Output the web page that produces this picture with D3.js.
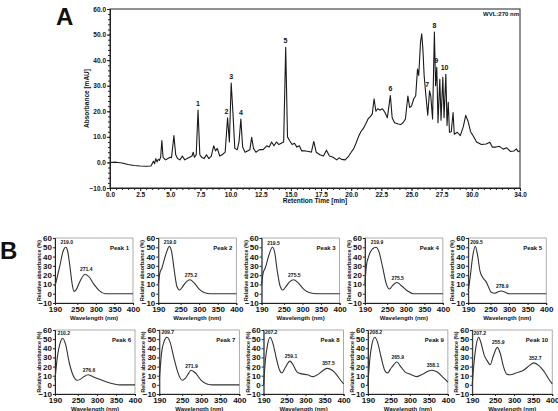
<!DOCTYPE html>
<html>
<head>
<meta charset="utf-8">
<script src="https://cdn.jsdelivr.net/npm/d3@7"></script>
<style>
  body { margin: 0; background: #fff; }
  text { font-family: "Liberation Sans", Arial, sans-serif; font-weight: bold; fill: #111; }
  .axis path, .axis line { stroke: #222; stroke-width: 1; }
  .frame { fill: none; stroke: #444; stroke-width: 1; }
</style>
</head>
<body>
<div id="chart"></div>
<script>
// ---- Panel A: chromatogram (retention time [min], absorbance [mAU]) ----
var chromTime = [0.0, 0.5, 1.0, 1.5, 2.0, 2.5, 3.0, 3.4, 3.6, 3.7, 3.8, 3.9, 4.0, 4.1, 4.2, 4.3, 4.4, 4.6, 4.8, 5.0,
  5.1, 5.3, 5.45, 5.6, 5.8, 6.0, 6.2, 6.4, 6.6, 6.8, 6.9, 7.0, 7.15, 7.3, 7.45, 7.6, 7.8, 8.0, 8.2, 8.4,
  8.6, 8.75, 8.9, 9.1, 9.3, 9.55, 9.75, 9.9, 10.05, 10.2, 10.35, 10.55, 10.7, 10.85, 11.0, 11.2, 11.4, 11.6, 11.75, 11.9,
  12.1, 12.4, 12.7, 13.0, 13.2, 13.4, 13.6, 13.8, 14.0, 14.2, 14.4, 14.57, 14.72, 14.9, 15.1, 15.3, 15.5, 15.7, 15.9, 16.2,
  16.5, 16.7, 16.9, 17.1, 17.4, 17.7, 17.95, 18.2, 18.5, 18.8, 19.0, 19.2, 19.5, 19.8, 20.0, 20.2, 20.4, 20.6, 20.8, 21.0,
  21.2, 21.4, 21.6, 21.75, 21.9, 22.05, 22.2, 22.4, 22.6, 22.8, 23.0, 23.25, 23.4, 23.6, 23.9, 24.1, 24.3, 24.5, 24.7, 24.85,
  25.0, 25.2, 25.35, 25.5, 25.6, 25.75, 25.85, 25.95, 26.05, 26.2, 26.35, 26.5, 26.6, 26.75, 26.9, 27.0, 27.1, 27.2, 27.35, 27.45,
  27.6, 27.7, 27.85, 27.95, 28.05, 28.15, 28.3, 28.45, 28.55, 28.8, 29.05, 29.3, 29.5, 29.7, 29.9, 30.1, 30.4, 30.8, 31.2, 31.5,
  31.7, 32.0, 32.3, 32.6, 32.9, 33.2, 33.5, 33.7, 33.85, 34.0];
var chromAbs = [0.0, 0.1, -0.2, -0.8, -1.2, -1.4, -1.5, -1.4, 0.5, -0.5, 1.5, 0.2, 1.2, 0.8, 2.0, 8.6, 2.0, 1.0, 1.5, 2.0,
  1.8, 10.5, 3.0, 1.5, 1.0, 2.5, 1.0, 1.5, 2.0, 2.5, 4.0, 2.0, 3.0, 20.5, 3.0, 2.0, 1.5, 3.0, 1.5, 2.5,
  6.5, 4.5, 5.5, 2.5, 3.0, 4.0, 17.5, 8.0, 31.0, 19.0, 5.5, 5.0, 8.0, 17.0, 6.0, 4.0, 4.5, 5.0, 9.8, 5.5,
  4.0, 5.0, 5.0, 6.5, 6.0, 8.0, 6.5, 8.0, 7.0, 7.5, 8.0, 45.0, 10.0, 8.5, 7.0, 7.5, 6.0, 6.5, 4.5, 4.5,
  4.3, 4.0, 8.2, 4.0, 3.0, 2.5, 4.8, 2.5, 2.0, 1.0, 1.8, 1.2, 1.0, 2.5, 4.0, 5.3, 7.5, 10.0, 12.0, 13.2,
  15.0, 17.0, 18.0, 19.0, 24.9, 20.0, 21.0, 20.5, 21.0, 19.5, 17.5, 26.2, 17.5, 15.5, 15.0, 14.8, 15.5, 17.0, 26.0, 21.5,
  22.0, 25.0, 26.0, 36.5, 34.0, 47.0, 50.3, 44.0, 34.0, 26.0, 18.5, 28.0, 26.0, 17.0, 51.0, 30.0, 37.2, 15.5, 32.5, 16.5,
  33.3, 17.5, 34.5, 14.5, 23.5, 11.8, 12.0, 19.5, 11.0, 11.8, 10.5, 14.0, 18.4, 16.0, 12.0, 10.5, 8.0, 7.0, 7.2, 7.9,
  6.0, 6.0, 6.3, 5.2, 5.7, 4.3, 4.5, 5.3, 4.2, 4.6];

var peakNums = ["1", "2", "3", "4", "5", "6", "7", "8", "9", "10"];
var peakRt = [7.3, 9.65, 10.05, 10.85, 14.55, 23.25, 26.3, 26.9, 27.05, 27.75];
var peakHt = [20.5, 17.5, 31.0, 17.0, 45.0, 26.2, 28.0, 51.0, 37.2, 34.5];

var timeTicks = [0, 2.5, 5, 7.5, 10, 12.5, 15, 17.5, 20, 22.5, 25, 27.5, 30, 34];
var absTicks = [-10, 0, 10, 20, 30, 40, 50, 60];

// ---- Panel B: UV spectra of the ten peaks (wavelength [nm], relative absorbance [%]) ----
var spec1 = [[190, 8], [196, 18], [203, 30], [212, 46], [219, 50], [224, 46], [230, 30], [236, 11], [241, 2.5], [248, 5], [258, 14], [271, 21], [282, 18], [295, 10], [310, 3], [325, 0], [340, 0], [400, 0]];
var spec2 = [[190, 10], [194, 22], [200, 28], [210, 42], [220, 51], [226, 45], [233, 25], [240, 8], [247, 4], [256, 8], [266, 13], [275, 15], [286, 12], [300, 5], [315, 1], [330, 0], [400, 0]];
var spec3 = [[190, 10], [194, 22], [200, 28], [210, 42], [219, 50], [225, 45], [232, 25], [240, 8], [247, 4], [256, 8], [266, 13], [276, 15], [288, 12], [303, 5], [320, 1], [340, 0], [400, 0]];
var spec4 = [[190, 10], [194, 30], [200, 40], [210, 48], [220, 50], [228, 45], [238, 28], [248, 10], [256, 5], [265, 9], [276, 12], [290, 8], [305, 3], [320, 0], [400, 0]];
var spec5 = [[190, 3], [196, 20], [202, 40], [209, 51], [215, 42], [222, 24], [230, 17], [238, 13], [245, 7], [252, 1.5], [262, 0.5], [270, 2], [279, 3], [290, 1.5], [300, 0], [400, 0]];
var spec6 = [[190, 5], [196, 30], [203, 45], [210, 51], [218, 44], [227, 25], [238, 10], [248, 5], [256, 6], [266, 9], [277, 11], [295, 8], [320, 4], [345, 1], [360, 0], [400, 0]];
var spec7 = [[190, 5], [196, 35], [203, 48], [210, 52], [218, 47], [228, 30], [240, 12], [250, 5], [258, 7], [266, 12], [273, 16], [285, 13], [300, 5], [315, 1], [330, 0], [400, 0]];
var spec8 = [[190, 0], [195, 28], [200, 43], [207, 52], [214, 46], [224, 28], [232, 16], [238, 13], [247, 19], [259, 26], [266, 23], [278, 14], [290, 12], [305, 11], [320, 9], [335, 12], [347, 16], [357, 18], [370, 16], [382, 11], [392, 5], [400, 1]];
var spec9 = [[190, 0], [195, 28], [200, 43], [208, 52], [215, 47], [226, 28], [234, 16], [241, 13], [252, 19], [266, 25], [276, 20], [288, 14], [300, 12], [318, 9], [335, 12], [348, 15], [358, 16], [372, 14], [388, 8], [400, 3]];
var spec10 = [[190, 0], [195, 25], [200, 42], [207, 52], [213, 46], [222, 32], [230, 26], [237, 22], [245, 31], [256, 41], [264, 34], [272, 20], [280, 12], [290, 11], [305, 13], [325, 16], [340, 21], [352, 24], [365, 21], [378, 15], [390, 7], [400, 1]];

var spectra = [spec1, spec2, spec3, spec4, spec5, spec6, spec7, spec8, spec9, spec10];
var specTitles = ["Peak 1", "Peak 2", "Peak 3", "Peak 4", "Peak 5", "Peak 6", "Peak 7", "Peak 8", "Peak 9", "Peak 10"];
var specMaxima = [[219.0, 271.4], [219.0, 275.2], [219.5, 275.5], [219.9, 275.5], [209.5, 278.9],
  [210.2, 276.6], [209.7, 271.9], [207.2, 259.1, 357.5], [208.2, 265.9, 358.1], [207.2, 255.9, 352.7]];
var wlTicks = [190, 250, 300, 350, 400];
var relTicks = [-10, 0, 10, 20, 30, 40, 50, 60];

var svgWidth = 558;
var svgHeight = 411;

var svg = d3.select("#chart")
  .append("svg")
  .attr("width", svgWidth)
  .attr("height", svgHeight)
  .style("background", "#fff");

// ================= Panel A =================
var marginA = { top: 9, left: 110, width: 410, height: 179 };

var xTime = d3.scaleLinear().domain([0, 34]).range([0, marginA.width]);
var yAbs = d3.scaleLinear().domain([-10, 60]).range([marginA.height, 0]);

var gA = svg.append("g")
  .attr("transform", `translate(${marginA.left}, ${marginA.top})`);

gA.append("rect")
  .attr("class", "frame")
  .attr("width", marginA.width)
  .attr("height", marginA.height)
  .style("stroke", "#222");

// minor ticks
gA.append("g")
  .attr("class", "axis")
  .attr("transform", `translate(0, ${marginA.height})`)
  .call(d3.axisBottom(xTime).tickValues(d3.range(0, 34.01, 0.5)).tickSize(2).tickFormat(""))
  .select(".domain").remove();
gA.append("g")
  .attr("class", "axis")
  .call(d3.axisLeft(yAbs).tickValues(d3.range(-10, 60.01, 2)).tickSize(2).tickFormat(""))
  .select(".domain").remove();

var xAxisA = gA.append("g")
  .attr("class", "axis")
  .attr("transform", `translate(0, ${marginA.height})`)
  .call(d3.axisBottom(xTime).tickValues(timeTicks).tickSize(3).tickPadding(1).tickFormat(d3.format(".1f")));
xAxisA.selectAll("text").style("font-size", "6.5px").style("font-family", "Liberation Sans, Arial").style("font-weight", "bold");

var yAxisA = gA.append("g")
  .attr("class", "axis")
  .call(d3.axisLeft(yAbs).tickValues(absTicks).tickSize(3).tickPadding(1).tickFormat(d3.format(".1f")));
yAxisA.selectAll("text").style("font-size", "6.5px").style("font-family", "Liberation Sans, Arial").style("font-weight", "bold");

var chromLine = d3.line()
  .x((d, i) => xTime(chromTime[i]))
  .y(d => yAbs(d));

gA.append("path")
  .datum(chromAbs)
  .attr("d", chromLine)
  .attr("fill", "none")
  .attr("stroke", "#1a1a1a")
  .attr("stroke-width", 1.1)
  .attr("stroke-linejoin", "round");

gA.selectAll(".peakLabel")
  .data(peakNums)
  .enter()
  .append("text")
  .attr("x", (d, i) => xTime(peakRt[i]))
  .attr("y", (d, i) => yAbs(peakHt[i]) - 4)
  .attr("text-anchor", "middle")
  .style("font-size", "7px")
  .text(d => d);

gA.append("text")
  .attr("x", marginA.width - 1)
  .attr("y", 7)
  .attr("text-anchor", "end")
  .style("font-size", "6px")
  .text("WVL:270 nm");

gA.append("text")
  .attr("x", marginA.width / 2)
  .attr("y", marginA.height + 15)
  .attr("text-anchor", "middle")
  .style("font-size", "6.5px")
  .text("Retention Time [min]");

gA.append("text")
  .attr("transform", "rotate(-90)")
  .attr("x", -marginA.height / 2)
  .attr("y", -21)
  .attr("text-anchor", "middle")
  .style("font-size", "6.5px")
  .text("Absorbance [mAU]");

svg.append("text")
  .attr("x", 56)
  .attr("y", 25)
  .style("font-size", "24px")
  .text("A");

// ================= Panel B =================
svg.append("text")
  .attr("x", 0)
  .attr("y", 259)
  .style("font-size", "24px")
  .text("B");

var rows = [
  { top: 238, left: 55, step: 103.3, width: 78, height: 65 },
  { top: 330, left: 55, step: 104.3, width: 80, height: 64 }
];

spectra.forEach(function(spec, k) {
  var row = rows[Math.floor(k / 5)];
  var col = k % 5;
  var w = row.width, h = row.height;

  var xWl = d3.scaleLinear().domain([190, 400]).range([0, w]);
  var yRel = d3.scaleLinear().domain([-10, 60]).range([h, 0]);

  var g = svg.append("g")
    .attr("transform", `translate(${row.left + col * row.step}, ${row.top})`);

  g.append("rect")
    .attr("class", "frame")
    .attr("width", w)
    .attr("height", h)
    .style("stroke", "#888")
    .style("stroke-width", 0.7);

  var xAx = g.append("g")
    .attr("class", "axis")
    .attr("transform", `translate(0, ${h})`)
    .call(d3.axisBottom(xWl).tickValues(wlTicks).tickSize(2).tickPadding(1));
  xAx.selectAll("text").style("font-size", "8px").style("font-family", "Liberation Sans, Arial").style("font-weight", "bold");

  var yAx = g.append("g")
    .attr("class", "axis")
    .call(d3.axisLeft(yRel).tickValues(relTicks).tickSize(2).tickPadding(1));
  yAx.selectAll("text").style("font-size", "8px").style("font-family", "Liberation Sans, Arial").style("font-weight", "bold");

  var line = d3.line()
    .x(d => xWl(d[0]))
    .y(d => yRel(d[1]))
    .curve(d3.curveMonotoneX);

  g.append("path")
    .datum(spec)
    .attr("d", line)
    .attr("fill", "none")
    .attr("stroke", "#333")
    .attr("stroke-width", 1.1);

  // label maxima, y from the spectrum itself
  var interp = function(wl) {
    for (var i = 1; i < spec.length; i++) {
      if (spec[i][0] >= wl) {
        var a = spec[i - 1], b = spec[i];
        return a[1] + (b[1] - a[1]) * (wl - a[0]) / (b[0] - a[0]);
      }
    }
    return spec[spec.length - 1][1];
  };
  g.selectAll(".maxLabel")
    .data(specMaxima[k])
    .enter()
    .append("text")
    .attr("x", d => xWl(d) + 1)
    .attr("y", d => yRel(interp(d)) - 3)
    .attr("text-anchor", "middle")
    .style("font-size", "5px")
    .text(d => d.toFixed(1));

  g.append("text")
    .attr("x", w - 4)
    .attr("y", 12)
    .attr("text-anchor", "end")
    .style("font-size", "6px")
    .text(specTitles[k]);

  g.append("text")
    .attr("x", w / 2)
    .attr("y", h + 17)
    .attr("text-anchor", "middle")
    .style("font-size", "6px")
    .text("Wavelength (nm)");

  g.append("text")
    .attr("transform", "rotate(-90)")
    .attr("x", -h / 2)
    .attr("y", -14)
    .attr("text-anchor", "middle")
    .style("font-size", "5.3px")
    .text("Relative absorbance (%)");
});
</script>
</body>
</html>
